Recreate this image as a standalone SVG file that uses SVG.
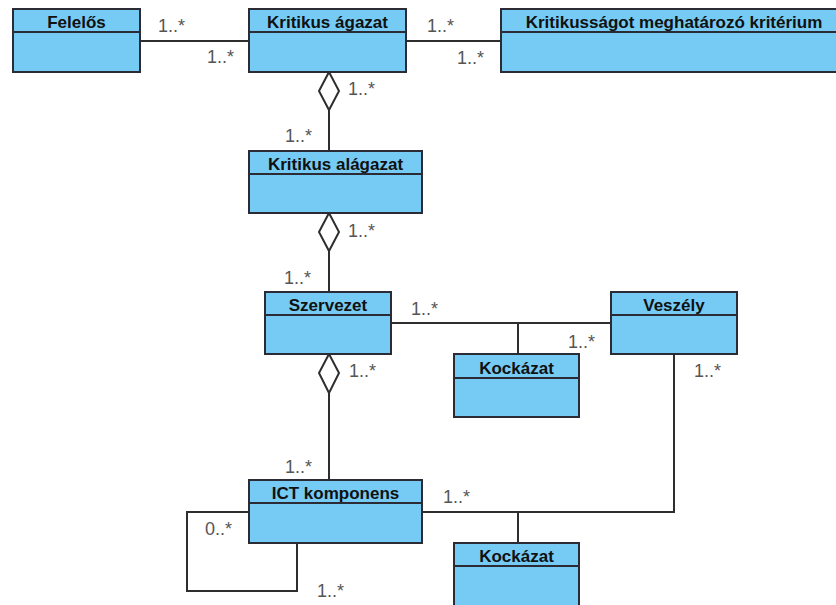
<svg xmlns="http://www.w3.org/2000/svg" width="836" height="605" viewBox="0 0 836 605">
<style>
.box{fill:#76CBF4;stroke:#2b2b35;stroke-width:2}
.div{stroke:#2b2b35;stroke-width:2}
.t{font-family:"Liberation Sans",Arial,sans-serif;font-weight:bold;font-size:17px;fill:#111;text-anchor:middle}
.m{font-family:"Liberation Sans",Arial,sans-serif;font-size:18px;fill:#555}
.c{fill:none;stroke:#2e2e2e;stroke-width:2}
.d{fill:#fff;stroke:#2e2e2e;stroke-width:2}
</style>
<rect width="836" height="605" fill="#fff"/>
<g id="connectors">
<line class="c" x1="140" y1="41" x2="249" y2="41"/>
<line class="c" x1="406" y1="41" x2="501" y2="41"/>
<line class="c" x1="329" y1="110" x2="329" y2="151"/>
<polygon class="d" points="329,72 339,91 329,110 319,91"/>
<line class="c" x1="329" y1="251" x2="329" y2="292"/>
<polygon class="d" points="329,213 339,232 329,251 319,232"/>
<line class="c" x1="329" y1="393" x2="329" y2="480"/>
<polygon class="d" points="329,354 339,373 329,393 319,373"/>
<line class="c" x1="391" y1="323" x2="611" y2="323"/>
<line class="c" x1="518" y1="323" x2="518" y2="354"/>
<polyline class="c" points="674,354 674,512 422,512"/>
<line class="c" x1="518" y1="512" x2="518" y2="543"/>
<polyline class="c" points="249,512 187,512 187,591 297,591 297,543"/>
<text class="m" x="158" y="32">1..*</text>
<text class="m" x="207" y="63">1..*</text>
<text class="m" x="427" y="32">1..*</text>
<text class="m" x="457" y="64">1..*</text>
<text class="m" x="348" y="95">1..*</text>
<text class="m" x="285" y="142">1..*</text>
<text class="m" x="348" y="237">1..*</text>
<text class="m" x="284" y="284">1..*</text>
<text class="m" x="411" y="315">1..*</text>
<text class="m" x="568" y="348">1..*</text>
<text class="m" x="349" y="377">1..*</text>
<text class="m" x="694" y="377">1..*</text>
<text class="m" x="285" y="473">1..*</text>
<text class="m" x="443" y="503">1..*</text>
<text class="m" x="205" y="535">0..*</text>
<text class="m" x="317" y="597">1..*</text>
</g>
<g id="felelos">
<rect class="box" x="13" y="9" width="127" height="63"/>
<line class="div" x1="13" y1="32" x2="140" y2="32"/>
<text class="t" x="76.5" y="28">Felelős</text>
</g>
<g id="kritikus-agazat">
<rect class="box" x="249" y="9" width="157" height="63"/>
<line class="div" x1="249" y1="32" x2="406" y2="32"/>
<text class="t" x="327.5" y="28">Kritikus ágazat</text>
</g>
<g id="kriterium">
<rect class="box" x="501" y="9" width="346" height="63"/>
<line class="div" x1="501" y1="32" x2="847" y2="32"/>
<text class="t" x="674" y="28">Kritikusságot meghatározó kritérium</text>
</g>
<g id="kritikus-alagazat">
<rect class="box" x="249" y="151" width="173" height="62"/>
<line class="div" x1="249" y1="174" x2="422" y2="174"/>
<text class="t" x="335.5" y="170">Kritikus alágazat</text>
</g>
<g id="szervezet">
<rect class="box" x="265" y="292" width="126" height="62"/>
<line class="div" x1="265" y1="315" x2="391" y2="315"/>
<text class="t" x="328" y="311">Szervezet</text>
</g>
<g id="veszely">
<rect class="box" x="611" y="292" width="126" height="62"/>
<line class="div" x1="611" y1="315" x2="737" y2="315"/>
<text class="t" x="674" y="311">Veszély</text>
</g>
<g id="kockazat1">
<rect class="box" x="454" y="354" width="125" height="63"/>
<line class="div" x1="454" y1="378" x2="579" y2="378"/>
<text class="t" x="516.5" y="374">Kockázat</text>
</g>
<g id="ict-komponens">
<rect class="box" x="249" y="480" width="173" height="63"/>
<line class="div" x1="249" y1="503" x2="422" y2="503"/>
<text class="t" x="335.5" y="499">ICT komponens</text>
</g>
<g id="kockazat2">
<rect class="box" x="454" y="543" width="125" height="70"/>
<line class="div" x1="454" y1="566" x2="579" y2="566"/>
<text class="t" x="516.5" y="562">Kockázat</text>
</g>
</svg>
